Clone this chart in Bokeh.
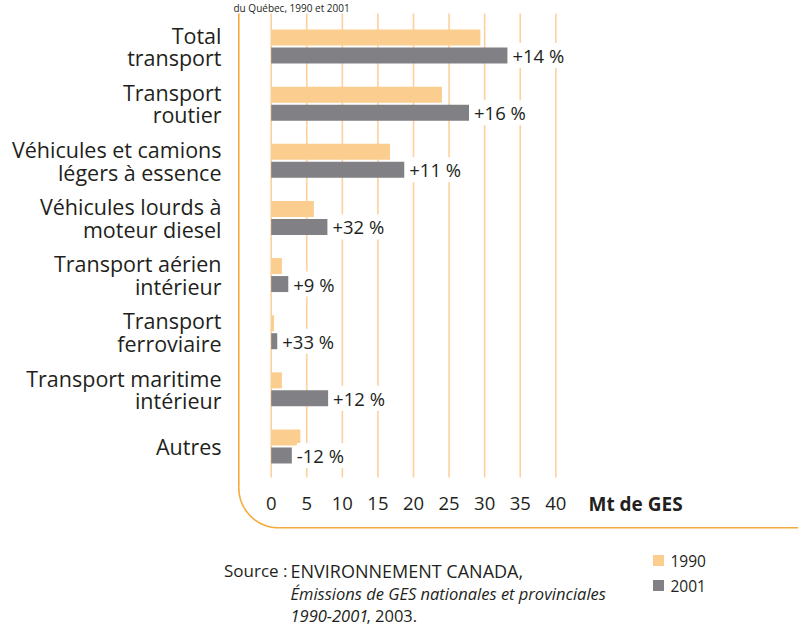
import numpy as np
from bokeh.plotting import figure
from bokeh.models import Range1d, ColumnDataSource, LabelSet
from bokeh.core.properties import value
from bokeh.transform import dodge
from bokeh.embed import file_html
from bokeh.resources import INLINE

# ---------------- data ----------------
categories = [
    "Total\ntransport",
    "Transport\nroutier",
    "Véhicules et camions\nlégers à essence",
    "Véhicules lourds à\nmoteur diesel",
    "Transport aérien\nintérieur",
    "Transport\nferroviaire",
    "Transport maritime\nintérieur",
    "Autres",
]
v1990 = [29.4, 24.0, 16.7, 6.0, 1.5, 0.4, 1.5, 4.1]
v2001 = [33.2, 27.8, 18.7, 7.9, 2.4, 0.85, 8.0, 2.9]
changes = ["+14 %", "+16 %", "+11 %", "+32 %", "+9 %", "+33 %", "+12 %", "-12 %"]
ticks = [0, 5, 10, 15, 20, 25, 30, 35, 40]
series = ["1990", "2001"]
unit_label = "Mt de GES"
title_tail = "du Québec, 1990 et 2001"
source_label = "Source :"
source_line1 = "ENVIRONNEMENT CANADA,"
source_line2 = "Émissions de GES nationales et provinciales"
source_line3a = "1990-2001"
source_line3b = ", 2003."

# ---------------- style / layout ----------------
C1990 = "#FBCD8F"
C2001 = "#818185"
GRID = "#FCD19B"
FRAME = "#F6A93B"
TXT = "#231F20"
FONT = value("Open Sans")
W, H = 798, 629
X0_PX, PX_PER_X = 270.7, 7.115
Y0_PX, PX_PER_Y = 46.0, 57.14


def xd(px):
    return (px - X0_PX) / PX_PER_X


def yd(px):
    return (px - Y0_PX) / PX_PER_Y


p = figure(
    width=W, height=H,
    x_range=Range1d(xd(0), xd(W)),
    y_range=Range1d(yd(H), yd(0)),
    output_backend="svg", toolbar_location=None,
    x_axis_location=None, y_axis_location=None,
    min_border=0, outline_line_color=None,
)
p.grid.visible = False
p.background_fill_color = "white"
p.border_fill_color = "white"

n = len(categories)
src = ColumnDataSource(dict(
    y=list(range(n)), cat=categories, v1990=v1990, v2001=v2001, chg=changes,
))

# grid lines
p.segment(x0=ticks, y0=[yd(13)] * len(ticks), x1=ticks, y1=[yd(477)] * len(ticks),
          line_color=GRID, line_width=1.6)

# bars
off = 9.0 / PX_PER_Y
bh = 16.0 / PX_PER_Y
p.hbar(y=dodge("y", -off, range=p.y_range), left=0, right="v1990", height=bh,
       fill_color=C1990, line_color=None, source=src)
p.hbar(y=dodge("y", off, range=p.y_range), left=0, right="v2001", height=bh,
       fill_color=C2001, line_color=None, source=src)

# percentage labels
labels = LabelSet(x="v2001", y=dodge("y", off, range=p.y_range), text="chg",
                  x_offset=5, text_baseline="middle", text_align="left",
                  text_font=FONT, text_font_size="18.5px", text_color=TXT,
                  background_fill_color="white", source=src)
p.add_layout(labels)

# category labels
p.text(x=xd(221), y="y", text="cat", text_align="right", text_baseline="middle",
       text_font=FONT, text_font_size="21.5px", text_line_height=0.78,
       text_color=TXT, source=src)

# tick labels
p.text(x=ticks, y=[yd(503)] * len(ticks), text=[str(t) for t in ticks],
       text_align="center", text_baseline="middle", text_font=FONT,
       text_font_size="18.5px", text_color=TXT)
p.text(x=[xd(588)], y=[yd(503)], text=[unit_label], text_align="left",
       text_baseline="middle", text_font=FONT, text_font_size="19px",
       text_font_style="bold", text_color=TXT)

# orange frame with rounded corner
R = 40.0
fx, fy = 238.3, 527.3
p.segment(x0=[xd(fx)], y0=[yd(13)], x1=[xd(fx)], y1=[yd(fy - R)],
          line_color=FRAME, line_width=1.6)
ang = np.linspace(np.pi, 1.5 * np.pi, 40)
cx, cy = fx + R, fy - R
p.line(x=[xd(cx + R * np.cos(a)) for a in ang],
       y=[yd(cy - R * np.sin(a)) for a in ang],
       line_color=FRAME, line_width=1.6)
p.segment(x0=[xd(cx)], y0=[yd(fy)], x1=[xd(W)], y1=[yd(fy)],
          line_color=FRAME, line_width=1.6)

# title tail (the reference only shows its lower edge at the top)
p.text(x=[xd(233)], y=[yd(0.5)], text=[title_tail], text_align="left",
       text_baseline="top", text_font=FONT, text_font_size="10px",
       text_color=TXT)

# source
p.text(x=[xd(287)], y=[yd(570)], text=[source_label], text_align="right",
       text_baseline="middle", text_font=FONT, text_font_size="17px", text_color=TXT)
p.text(x=[xd(290)], y=[yd(570)], text=[source_line1], text_align="left",
       text_baseline="middle", text_font=FONT, text_font_size="18px", text_color=TXT)
p.text(x=[xd(290)], y=[yd(593)], text=[source_line2], text_align="left",
       text_baseline="middle", text_font=FONT, text_font_size="16.5px",
       text_font_style="italic", text_color=TXT)
p.text(x=[xd(290)], y=[yd(615)], text=[source_line3a], text_align="left",
       text_baseline="middle", text_font=FONT, text_font_size="16.5px",
       text_font_style="italic", text_color=TXT)
p.text(x=[xd(366)], y=[yd(615)], text=[source_line3b], text_align="left",
       text_baseline="middle", text_font=FONT, text_font_size="16.5px", text_color=TXT)

# legend
p.scatter(x=[xd(658)] * 2, y=[yd(560), yd(585)], marker="square", size=11,
          fill_color=[C1990, C2001], line_color=None)
p.text(x=[xd(670)] * 2, y=[yd(560), yd(585)], text=series, text_align="left",
       text_baseline="middle", text_font=FONT, text_font_size="15.5px", text_color=TXT)

open("out.html", "w").write(file_html(p, INLINE))
